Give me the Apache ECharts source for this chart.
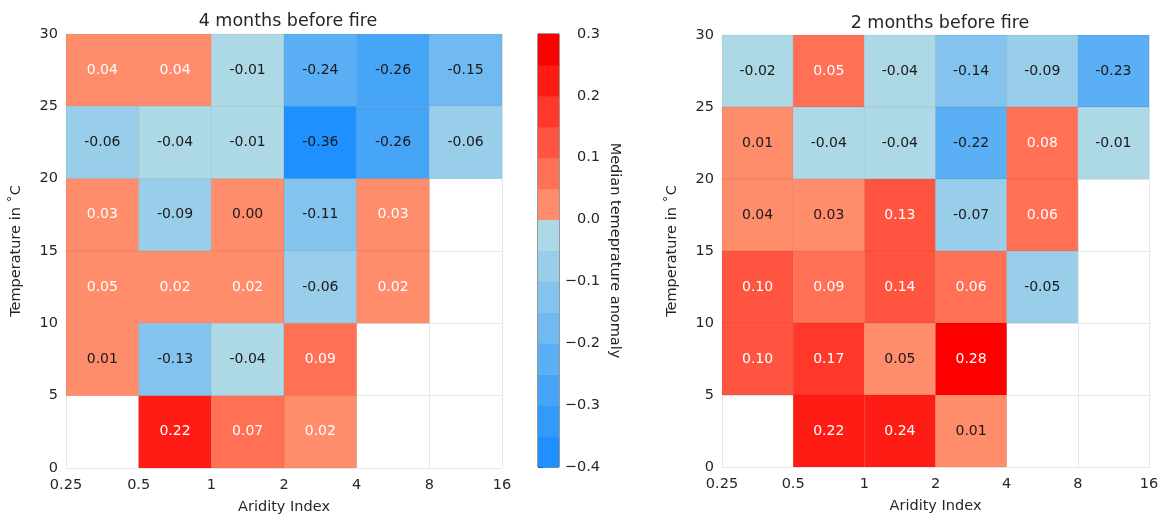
<!DOCTYPE html>
<html>
<head>
<meta charset="utf-8">
<script src="https://cdn.jsdelivr.net/npm/echarts@6/dist/echarts.min.js"></script>
<style>
  html, body { margin: 0; padding: 0; background: #fff; }
  #chart { width: 1168px; height: 515px; }
</style>
</head>
<body>
<div id="chart"></div>
<script>
// Aridity index bin edges (log2 spaced) and temperature bin edges
const aridityTicks = ['0.25', '0.5', '1', '2', '4', '8', '16'];
const tempTicks = [0, 5, 10, 15, 20, 25, 30];
// lower temperature edge of each row, listed top row first
const tempRows = [25, 20, 15, 10, 5, 0];

// median temperature anomaly per (temperature row, aridity column)
const fourMonthsBefore = [
  [0.04, 0.04, -0.01, -0.24, -0.26, -0.153],
  [-0.06, -0.04, -0.01, -0.36, -0.26, -0.06],
  [0.03, -0.09, 0.00, -0.11, 0.03, null],
  [0.049, 0.02, 0.02, -0.06, 0.02, null],
  [0.01, -0.13, -0.04, 0.09, null, null],
  [null, 0.22, 0.07, 0.02, null, null]
];
const twoMonthsBefore = [
  [-0.02, 0.052, -0.04, -0.14, -0.09, -0.23],
  [0.01, -0.04, -0.04, -0.22, 0.08, -0.01],
  [0.04, 0.03, 0.13, -0.07, 0.06, null],
  [0.10, 0.09, 0.14, 0.06, -0.053, null],
  [0.10, 0.17, 0.048, 0.28, null, null],
  [null, 0.22, 0.24, 0.01, null, null]
];

// discrete colour scale
const binEdges = [-0.4, -0.35, -0.3, -0.25, -0.2, -0.15, -0.1, -0.05, 0, 0.05, 0.1, 0.15, 0.2, 0.25, 0.3];
const binColors = ['#1e90ff', '#329afb', '#47a5f8', '#5bafF4', '#70b9f1', '#84c3ed', '#99ceea', '#add8e6',
                   '#ff8c6a', '#ff7055', '#ff5440', '#ff382a', '#ff1c15', '#ff0000'];

const FONT = '"DejaVu Sans", "Bitstream Vera Sans", sans-serif';
const TXT = '#262626';

function toCells(matrix) {
  const out = [];
  matrix.forEach((row, r) => row.forEach((v, c) => {
    if (v !== null) out.push([c, tempRows[r], v]);
  }));
  return out;
}

function cellRenderer(whiteAbove) {
  return function (params, api) {
    const col = api.value(0), lo = api.value(1), v = api.value(2);
    const a = api.coord([col, lo + 5]);
    const b = api.coord([col + 1, lo]);
    return {
      type: 'group',
      children: [
        { type: 'rect',
          shape: { x: a[0], y: a[1], width: b[0] - a[0], height: b[1] - a[1] },
          style: { fill: api.visual('color'), stroke: 'rgba(0,0,0,0.05)', lineWidth: 1 } },
        { type: 'text', x: (a[0] + b[0]) / 2, y: (a[1] + b[1]) / 2,
          style: { text: v.toFixed(2), fill: v > whiteAbove ? '#ffffff' : '#1a1a1a',
                   font: '14px ' + FONT, align: 'center', verticalAlign: 'middle' } }
      ]
    };
  };
}

function colorbarRenderer(params, api) {
  const a = api.coord([0, api.value(1)]);
  const b = api.coord([1, api.value(0)]);
  return { type: 'rect',
    shape: { x: a[0], y: a[1], width: b[0] - a[0], height: b[1] - a[1] + 0.5 },
    style: { fill: api.visual('color') } };
}

const fmtMinus = v => (v < -1e-9 ? '\u2212' : '') + Math.abs(v).toFixed(1);

function heatXAxis(gi) {
  return {
    type: 'value', gridIndex: gi, min: 0, max: 6, interval: 1,
    name: 'Aridity Index', nameLocation: 'middle', nameGap: 32,
    nameTextStyle: { fontFamily: FONT, fontSize: 14.5, color: TXT },
    axisLine: { show: false }, axisTick: { show: false },
    axisLabel: { formatter: v => aridityTicks[v], margin: 10, fontFamily: FONT, fontSize: 14.5, color: TXT,
                 showMinLabel: true, showMaxLabel: true },
    splitLine: { show: true, lineStyle: { color: '#e8e8e8', width: 1 } }
  };
}
function heatYAxis(gi) {
  return {
    type: 'value', gridIndex: gi, min: 0, max: 30, interval: 5,
    name: 'Temperature in \u02DAC', nameLocation: 'middle', nameGap: 42,
    nameTextStyle: { fontFamily: FONT, fontSize: 14.5, color: TXT },
    axisLine: { show: false }, axisTick: { show: false },
    axisLabel: { margin: 8, fontFamily: FONT, fontSize: 14.5, color: TXT },
    splitLine: { show: true, lineStyle: { color: '#e8e8e8', width: 1 } }
  };
}

const pieces = binColors.map((c, i) => {
  const p = { gte: binEdges[i], color: c };
  if (i === binColors.length - 1) p.lte = binEdges[i + 1]; else p.lt = binEdges[i + 1];
  return p;
});

const colorbarData = binColors.map((c, i) => [binEdges[i], binEdges[i + 1], (binEdges[i] + binEdges[i + 1]) / 2]);

const chart = echarts.init(document.getElementById('chart'), null, { renderer: 'canvas' });
chart.setOption({
  animation: false,
  backgroundColor: '#ffffff',
  title: [
    { text: '4 months before fire', left: 283, top: 7, textAlign: 'center',
      textStyle: { fontFamily: FONT, fontSize: 17.5, fontWeight: 'normal', color: TXT } },
    { text: '2 months before fire', left: 935, top: 9, textAlign: 'center',
      textStyle: { fontFamily: FONT, fontSize: 17.5, fontWeight: 'normal', color: TXT } }
  ],
  grid: [
    { left: 66, top: 34, width: 436, height: 434, outerBoundsMode: 'none', containLabel: false },
    { left: 538, top: 34, width: 21, height: 433, show: true, borderColor: '#333333', borderWidth: 1,
      backgroundColor: 'transparent', outerBoundsMode: 'none', containLabel: false },
    { left: 722, top: 35, width: 427, height: 432, outerBoundsMode: 'none', containLabel: false }
  ],
  xAxis: [
    heatXAxis(0),
    { type: 'value', gridIndex: 1, min: 0, max: 1, show: false },
    heatXAxis(2)
  ],
  yAxis: [
    heatYAxis(0),
    { type: 'value', gridIndex: 1, min: -0.4, max: 0.3, interval: 0.1, position: 'right',
      name: 'Median temeprature anomaly', nameLocation: 'middle', nameGap: 48, nameRotate: -90,
      nameTextStyle: { fontFamily: FONT, fontSize: 14.5, color: TXT },
      axisLine: { show: false },
      axisTick: { show: true, inside: false, length: 5, lineStyle: { color: '#333333' } },
      axisLabel: { formatter: fmtMinus, margin: 41, align: 'right', fontFamily: FONT, fontSize: 14.5, color: TXT,
                   showMinLabel: true, showMaxLabel: true },
      splitLine: { show: false } },
    heatYAxis(2)
  ],
  visualMap: {
    type: 'piecewise', show: false, dimension: 2, seriesIndex: [0, 1, 2], pieces: pieces
  },
  series: [
    { type: 'custom', xAxisIndex: 0, yAxisIndex: 0, renderItem: cellRenderer(0.015),
      data: toCells(fourMonthsBefore), z: 3 },
    { type: 'custom', xAxisIndex: 1, yAxisIndex: 1, renderItem: colorbarRenderer,
      data: colorbarData, z: 1 },
    { type: 'custom', xAxisIndex: 2, yAxisIndex: 2, renderItem: cellRenderer(0.05),
      data: toCells(twoMonthsBefore), z: 3 }
  ]
});
</script>
</body>
</html>
